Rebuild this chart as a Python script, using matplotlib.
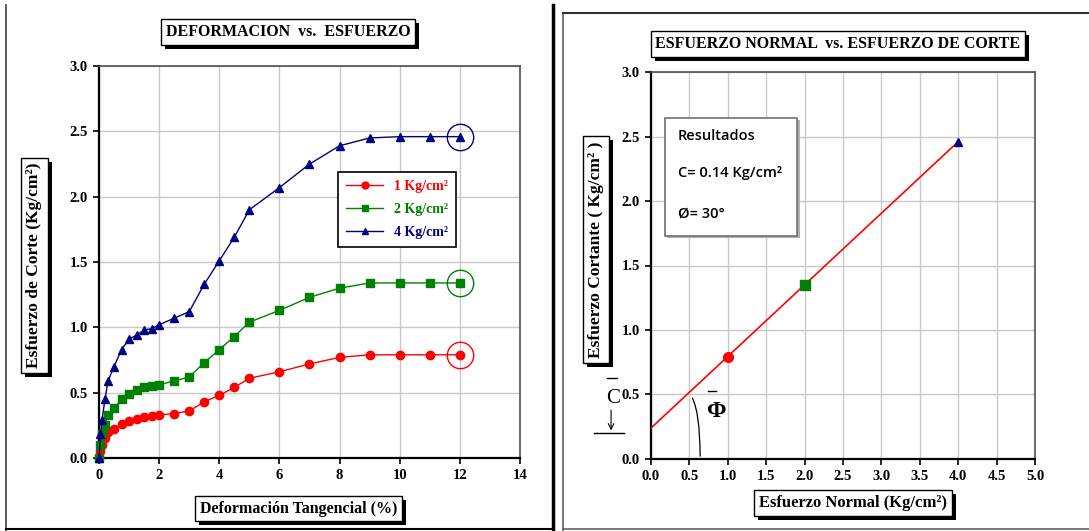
import numpy as np
import matplotlib
matplotlib.use('Agg')
import matplotlib.pyplot as plt
from matplotlib.patches import Rectangle

plt.rcParams['font.family'] = ['Liberation Serif', 'DejaVu Serif']

# ---- data: deformacion vs esfuerzo ----
deform = [0, 0.05, 0.1, 0.2, 0.3, 0.5, 0.75, 1.0, 1.25, 1.5, 1.75, 2, 2.5, 3,
          3.5, 4, 4.5, 5, 6, 7, 8, 9, 10, 11, 12]
esf_1 = [0, 0.05, 0.1, 0.15, 0.2, 0.22, 0.26, 0.28, 0.30, 0.31, 0.32, 0.33, 0.34, 0.36,
         0.43, 0.48, 0.54, 0.61, 0.66, 0.72, 0.77, 0.79, 0.79, 0.79, 0.79]
esf_2 = [0, 0.1, 0.18, 0.25, 0.33, 0.38, 0.45, 0.49, 0.52, 0.54, 0.55, 0.56, 0.59, 0.62,
         0.73, 0.83, 0.93, 1.04, 1.13, 1.23, 1.30, 1.34, 1.34, 1.34, 1.34]
esf_4 = [0, 0.18, 0.29, 0.45, 0.59, 0.70, 0.83, 0.91, 0.94, 0.98, 0.99, 1.02, 1.07, 1.12,
         1.33, 1.51, 1.69, 1.90, 2.07, 2.25, 2.39, 2.45, 2.46, 2.46, 2.46]
labels = ['1 Kg/cm²', '2 Kg/cm²', '4 Kg/cm²']

# ---- data: esfuerzo normal vs esfuerzo de corte ----
normal = [1, 2, 4]
corte = [0.79, 1.35, 2.46]
line_x = [0, 4]
line_y = [0.24, 2.46]

RED = '#ff0000'
GREEN = '#008000'
BLUE = '#000080'

fig = plt.figure(figsize=(10.89, 5.31), dpi=100)
boxed_texts = []


def boxed(x, y, s, size=11, rotation=0):
    # text in a white box; the black drop shadow is added after a draw
    t = fig.text(x, y, s, ha='center', va='center', fontsize=size, fontweight='bold',
                 rotation=rotation, color='black', zorder=10,
                 bbox=dict(boxstyle='square,pad=0.3', fc='white', ec='black', lw=1))
    boxed_texts.append(t)


def style_axes(ax):
    ax.grid(True, color='#c8c8c8', lw=1)
    ax.set_axisbelow(True)
    for s in ['left', 'bottom']:
        ax.spines[s].set_linewidth(1.6)
        ax.spines[s].set_color('black')
    for s in ['top', 'right']:
        ax.spines[s].set_linewidth(1.2)
        ax.spines[s].set_color('#505050')
    ax.tick_params(direction='out', length=4, width=1.2, labelsize=10.5, pad=4)
    for lab in ax.get_xticklabels() + ax.get_yticklabels():
        lab.set_fontweight('bold')


# ---------------- left chart ----------------
ax1 = fig.add_axes([0.0909, 0.1375, 0.3866, 0.738])
ax1.plot(deform, esf_1, color=RED, marker='o', ms=6, lw=1, label=labels[0], clip_on=False, zorder=4)
ax1.plot(deform, esf_2, color=GREEN, marker='s', ms=6, lw=1, label=labels[1], clip_on=False, zorder=4)
ax1.plot(deform, esf_4, color=BLUE, marker='^', ms=6, lw=1, label=labels[2], clip_on=False, zorder=4)
for ys, c in [(esf_1, RED), (esf_2, GREEN), (esf_4, BLUE)]:
    ax1.plot(deform[-1], ys[-1], marker='o', ms=19, mfc='none', mec=c, mew=1, zorder=5)
ax1.set_xlim(0, 14)
ax1.set_ylim(0, 3)
ax1.set_xticks(np.arange(0, 15, 2))
ax1.set_yticks(np.arange(0, 3.01, 0.5))
ax1.yaxis.set_major_formatter(matplotlib.ticker.FormatStrFormatter('%.1f'))
style_axes(ax1)
leg = ax1.legend(loc='upper left', bbox_to_anchor=(0.568, 0.73), fancybox=False,
                 edgecolor='black', framealpha=1, handlelength=2.6, borderpad=0.6,
                 labelspacing=0.7, prop=dict(weight='bold', size=10), labelcolor='linecolor',
                 borderaxespad=0)
leg.get_frame().set_linewidth(1.2)
for h in leg.legend_handles:
    h.set_markersize(5)

boxed(0.2645, 0.940, 'DEFORMACION  vs.  ESFUERZO', size=11.5)
boxed(0.274, 0.042, 'Deformación Tangencial (%)', size=11.5)
boxed(0.0315, 0.50, 'Esfuerzo de Corte (Kg/cm²)', size=12.5, rotation=90)

# ---------------- right chart ----------------
ax2 = fig.add_axes([0.5978, 0.1356, 0.3526, 0.7288])
ax2.plot(line_x, line_y, color=RED, lw=1.2, zorder=3)
ax2.plot(normal[0], corte[0], 'o', color=RED, ms=7, zorder=4)
ax2.plot(normal[1], corte[1], 's', color=GREEN, ms=7, zorder=4)
ax2.plot(normal[2], corte[2], '^', color=BLUE, ms=6, zorder=4)
ax2.set_xlim(0, 5)
ax2.set_ylim(0, 3)
ax2.set_xticks(np.arange(0, 5.01, 0.5))
ax2.set_yticks(np.arange(0, 3.01, 0.5))
ax2.xaxis.set_major_formatter(matplotlib.ticker.FormatStrFormatter('%.1f'))
ax2.yaxis.set_major_formatter(matplotlib.ticker.FormatStrFormatter('%.1f'))
style_axes(ax2)

# results box
ax2.add_patch(Rectangle((0.042, 0.57), 0.345, 0.305, transform=ax2.transAxes,
                        fc='#b0b0b0', ec='none', zorder=5, clip_on=False))
ax2.add_patch(Rectangle((0.036, 0.576), 0.345, 0.305, transform=ax2.transAxes,
                        fc='white', ec='#707070', lw=1.2, zorder=6, clip_on=False))
rfont = dict(family=['Open Sans', 'DejaVu Sans'], weight='semibold', size=10.5, zorder=7,
             transform=ax2.transAxes, va='center', ha='left')
ax2.text(0.07, 0.835, 'Resultados', **rfont)
ax2.text(0.07, 0.74, 'C= 0.14 Kg/cm²', **rfont)
ax2.text(0.07, 0.635, 'Ø= 30°', **rfont)

# C annotation
ax2.text(-0.50, 0.47, 'C', fontsize=15, ha='center', va='center', clip_on=False)
ax2.plot([-0.57, -0.44], [0.63, 0.63], color='black', lw=1, clip_on=False)
ax2.annotate('', xy=(-0.52, 0.2), xytext=(-0.52, 0.40),
             arrowprops=dict(arrowstyle='->', color='black', lw=0.8), annotation_clip=False)
ax2.plot([-0.74, -0.35], [0.2, 0.2], color='black', lw=1, clip_on=False)

# Phi annotation
ax2.text(0.84, 0.37, 'Φ', fontsize=17, ha='center', va='center', fontweight='bold')
ax2.plot([0.74, 0.84], [0.53, 0.53], color='black', lw=1)
ax2.annotate('', xy=(0.64, 0.0), xytext=(0.52, 0.49),
             arrowprops=dict(arrowstyle='-', color='black', lw=0.9,
                             connectionstyle='angle3,angleA=-55,angleB=90'))

boxed(0.7695, 0.917, 'ESFUERZO NORMAL  vs. ESFUERZO DE CORTE', size=11.5)
boxed(0.783, 0.053, 'Esfuerzo Normal (Kg/cm²)', size=12)
boxed(0.5475, 0.53, 'Esfuerzo Cortante ( Kg/cm² )', size=12.5, rotation=90)

# drop shadows behind the boxed texts
fig.canvas.draw()
W, H = fig.bbox.width, fig.bbox.height
for t in boxed_texts:
    bb = t.get_bbox_patch().get_window_extent()
    fig.add_artist(Rectangle(((bb.x0 + 4) / W, (bb.y0 - 4) / H), bb.width / W, bb.height / H,
                             transform=fig.transFigure, fc='black', ec='none', zorder=9))

# panel borders
fig.add_artist(plt.Line2D([0.0055, 0.0055], [0.0, 0.99], color='#404040', lw=1.2))
fig.add_artist(plt.Line2D([0.0055, 0.508], [0.003, 0.003], color='black', lw=1.5))
fig.add_artist(plt.Line2D([0.508, 0.508], [0.0, 0.99], color='black', lw=2.5))
fig.add_artist(plt.Line2D([0.517, 0.517], [0.0, 0.975], color='#606060', lw=1.2))
fig.add_artist(plt.Line2D([0.517, 1.0], [0.975, 0.975], color='#303030', lw=1.5))
fig.add_artist(plt.Line2D([0.517, 1.0], [0.003, 0.003], color='#606060', lw=1.2))

fig.savefig('out.png', dpi=100)
